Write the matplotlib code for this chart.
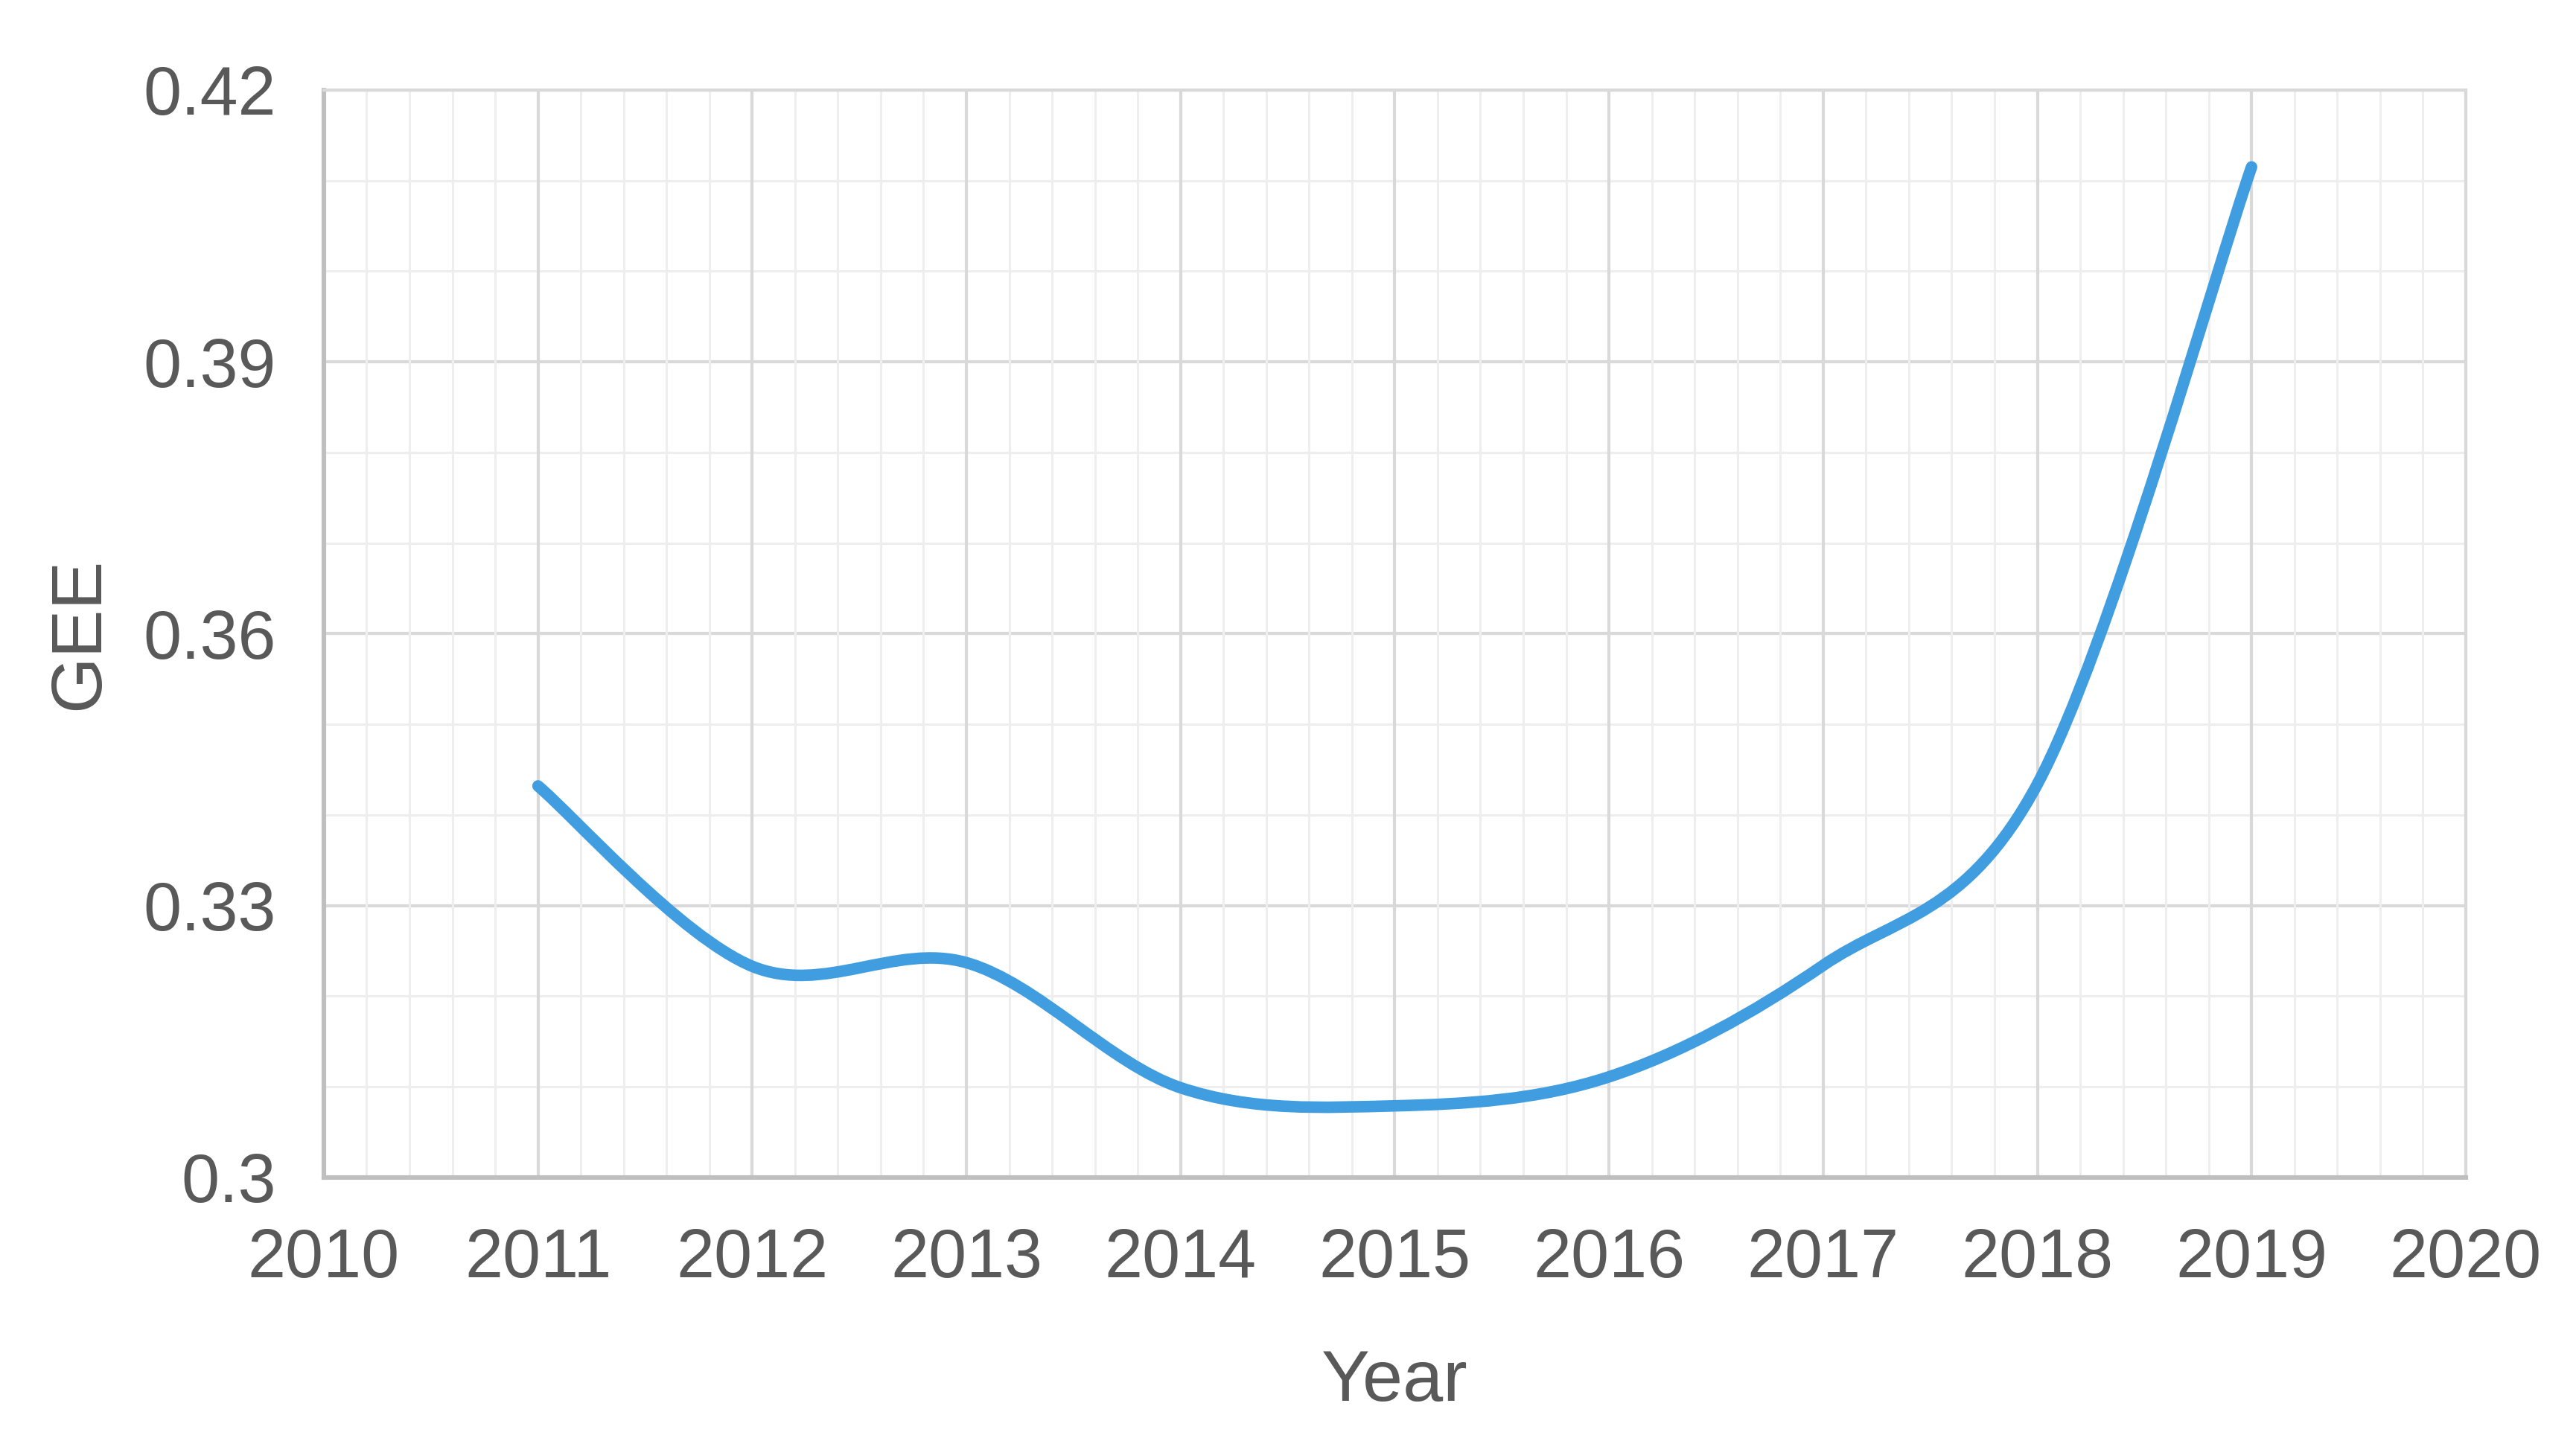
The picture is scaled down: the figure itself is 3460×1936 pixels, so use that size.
import matplotlib
matplotlib.use("Agg")
import matplotlib.pyplot as plt
from matplotlib.path import Path
from matplotlib.patches import PathPatch
from matplotlib.ticker import MultipleLocator, FuncFormatter

# ---- data ----
years = [2011, 2012, 2013, 2014, 2015, 2016, 2017, 2018, 2019]
gee = [0.3432, 0.3233, 0.3237, 0.3099, 0.3079, 0.3111, 0.3234, 0.3434, 0.4115]
x_ticks = list(range(2010, 2021))
y_ticks = [0.30, 0.33, 0.36, 0.39, 0.42]
x_label = "Year"
y_label = "GEE"

TEXT = "#595959"
LINE = "#3f9de0"

plt.rcParams['font.family'] = ['Liberation Sans', 'DejaVu Sans']

fig = plt.figure(figsize=(17.3, 9.68), dpi=200)
ax = fig.add_axes([0.1257, 0.1829, 0.8315, 0.7547])

ax.set_xlim(2010, 2020)
ax.set_ylim(0.30, 0.42)
ax.set_xticks(x_ticks)
ax.set_yticks(y_ticks)
ax.xaxis.set_minor_locator(MultipleLocator(0.2))
ax.yaxis.set_minor_locator(MultipleLocator(0.01))
ax.yaxis.set_major_formatter(FuncFormatter(lambda v, p: f"{round(v, 4):g}"))

ax.grid(which='major', color='#d9d9d9', linewidth=1.5)
ax.grid(which='minor', color='#eeeeee', linewidth=1.1)
ax.tick_params(which='both', length=0)
ax.tick_params(axis='x', which='major', pad=24, labelsize=33, labelcolor=TEXT)
ax.tick_params(axis='y', which='major', pad=23, labelsize=33, labelcolor=TEXT)
ax.yaxis.set_zorder(0.5)
ax.xaxis.set_zorder(0.6)

for side in ['left', 'bottom']:
    ax.spines[side].set_color('#bfbfbf')
    ax.spines[side].set_linewidth(2.2)
for side in ['top', 'right']:
    ax.spines[side].set_color('#d9d9d9')
    ax.spines[side].set_linewidth(1.5)

# smoothed line (Excel-style cubic Bezier through data points)
n = len(years)
verts = [(years[0], gee[0])]
codes = [Path.MOVETO]
for i in range(n - 1):
    p0 = (years[i - 1], gee[i - 1]) if i > 0 else (years[i], gee[i])
    p1 = (years[i], gee[i])
    p2 = (years[i + 1], gee[i + 1])
    p3 = (years[i + 2], gee[i + 2]) if i + 2 < n else (years[i + 1], gee[i + 1])
    c1 = (p1[0] + (p2[0] - p0[0]) / 6, p1[1] + (p2[1] - p0[1]) / 6)
    c2 = (p2[0] - (p3[0] - p1[0]) / 6, p2[1] - (p3[1] - p1[1]) / 6)
    verts += [c1, c2, p2]
    codes += [Path.CURVE4] * 3
patch = PathPatch(Path(verts, codes), facecolor='none', edgecolor=LINE,
                  linewidth=5.6, capstyle='round', joinstyle='round', zorder=3)
ax.add_patch(patch)

ax.set_xlabel(x_label, fontsize=35, color=TEXT)
ax.xaxis.set_label_coords(0.5, -0.2053)
ax.xaxis.label.set_va('baseline')
ax.set_ylabel(y_label, fontsize=35, color=TEXT)
ax.yaxis.set_label_coords(-0.114, 0.5)
ax.yaxis.label.set_va('center')

fig.savefig("out.png", dpi=200, facecolor='white')
